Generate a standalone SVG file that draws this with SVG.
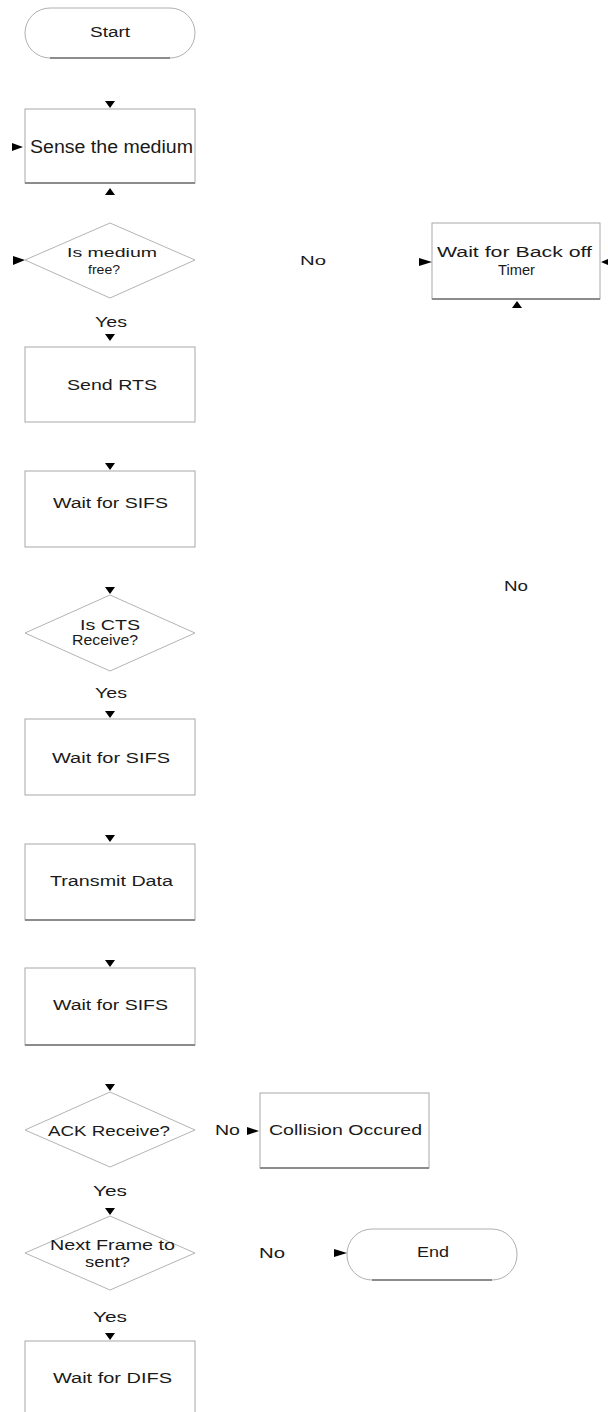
<svg xmlns="http://www.w3.org/2000/svg" width="608" height="1412" viewBox="0 0 608 1412">
<style>
text{font-family:"Liberation Sans",Arial,sans-serif;font-size:14px;fill:#1a1a1a}
.box{fill:#fff;stroke:#a8a8a8;stroke-width:1}
.sh{stroke:#8c8c8c;stroke-width:2}
.dia{fill:#fff;stroke:#b4b4b4;stroke-width:1}
.term{fill:#fff;stroke:#b0b0b0;stroke-width:1}
.ah{fill:#000}
</style>
<rect width="608" height="1412" fill="#fff"/>
<g id="start"><rect class="term" x="25" y="8" width="170" height="50" rx="25"/><line class="sh" x1="50" y1="58" x2="170" y2="58" stroke="#c4c4c4"/><text x="90" y="37" textLength="40" lengthAdjust="spacingAndGlyphs">Start</text></g>
<g id="sense"><rect class="box" x="25" y="109" width="170" height="74"/><line class="sh" x1="25" y1="183" x2="195" y2="183" stroke="#c0c0c0"/><text x="30" y="153" style="font-size:18px" textLength="163" lengthAdjust="spacingAndGlyphs">Sense the medium</text></g>
<g id="medfree"><polygon class="dia" points="110,223 195,260 110,298 25,260"/><text x="67" y="257" style="font-size:13px" textLength="90" lengthAdjust="spacingAndGlyphs">Is medium</text><text x="88" y="274" style="font-size:13px" textLength="32" lengthAdjust="spacingAndGlyphs">free?</text></g>
<g id="backoff"><rect class="box" x="432" y="223" width="168" height="76"/><line class="sh" x1="432" y1="299" x2="600" y2="299" stroke="#b8b8b8"/><text x="437" y="257" textLength="155" lengthAdjust="spacingAndGlyphs">Wait for Back off</text><text x="498" y="275" textLength="37" lengthAdjust="spacingAndGlyphs">Timer</text></g>
<g id="rts"><rect class="box" x="25" y="347" width="170" height="75"/><text x="67" y="390" style="font-size:15px" textLength="90" lengthAdjust="spacingAndGlyphs">Send RTS</text></g>
<g id="sifs1"><rect class="box" x="25" y="471" width="170" height="76"/><text x="53" y="508" textLength="115" lengthAdjust="spacingAndGlyphs">Wait for SIFS</text></g>
<g id="cts"><polygon class="dia" points="110,595 195,633 110,671 25,633"/><text x="80" y="630" textLength="60" lengthAdjust="spacingAndGlyphs">Is CTS</text><text x="72" y="645" textLength="66" lengthAdjust="spacingAndGlyphs">Receive?</text></g>
<g id="sifs2"><rect class="box" x="25" y="719" width="170" height="76"/><text x="52" y="763" textLength="118" lengthAdjust="spacingAndGlyphs">Wait for SIFS</text></g>
<g id="transmit"><rect class="box" x="25" y="844" width="170" height="76"/><line class="sh" x1="25" y1="920" x2="195" y2="920" stroke="#b8b8b8"/><text x="50" y="886" textLength="123" lengthAdjust="spacingAndGlyphs">Transmit Data</text></g>
<g id="sifs3"><rect class="box" x="25" y="968" width="170" height="77"/><line class="sh" x1="25" y1="1045" x2="195" y2="1045" stroke="#a0a0a0"/><text x="53" y="1010" textLength="115" lengthAdjust="spacingAndGlyphs">Wait for SIFS</text></g>
<g id="ack"><polygon class="dia" points="110,1092 195,1130 110,1167 25,1130"/><text x="48" y="1136" textLength="122" lengthAdjust="spacingAndGlyphs">ACK Receive?</text></g>
<g id="collision"><rect class="box" x="260" y="1093" width="169" height="75"/><line class="sh" x1="260" y1="1168" x2="429" y2="1168" stroke="#909090"/><text x="269" y="1135" textLength="153" lengthAdjust="spacingAndGlyphs">Collision Occured</text></g>
<g id="nextframe"><polygon class="dia" points="110,1216 195,1253 110,1290 25,1253"/><text x="50" y="1250" textLength="125" lengthAdjust="spacingAndGlyphs">Next Frame to</text><text x="85" y="1267" textLength="45" lengthAdjust="spacingAndGlyphs">sent?</text></g>
<g id="end"><rect class="term" x="347" y="1229" width="170" height="51" rx="25"/><line class="sh" x1="372" y1="1280" x2="492" y2="1280" stroke="#c4c4c4"/><text x="417" y="1257" textLength="32" lengthAdjust="spacingAndGlyphs">End</text></g>
<g id="difs"><rect class="box" x="25" y="1341" width="170" height="80"/><text x="53" y="1383" textLength="119" lengthAdjust="spacingAndGlyphs">Wait for DIFS</text></g>
<g id="labels">
<text x="95" y="327" textLength="32" lengthAdjust="spacingAndGlyphs">Yes</text>
<text x="300" y="265" style="font-size:13px" textLength="26" lengthAdjust="spacingAndGlyphs">No</text>
<text x="95" y="698" textLength="32" lengthAdjust="spacingAndGlyphs">Yes</text>
<text x="504" y="591" textLength="24" lengthAdjust="spacingAndGlyphs">No</text>
<text x="215" y="1135" textLength="25" lengthAdjust="spacingAndGlyphs">No</text>
<text x="93" y="1196" textLength="34" lengthAdjust="spacingAndGlyphs">Yes</text>
<text x="259" y="1258" textLength="26" lengthAdjust="spacingAndGlyphs">No</text>
<text x="93" y="1322" textLength="34" lengthAdjust="spacingAndGlyphs">Yes</text>
</g>
<g id="connectors">
<polygon class="ah" points="105,101 115,101 110,108"/>
<polygon class="ah" points="12,143 12,151 23,147"/>
<polygon class="ah" points="105,195 115,195 110,188"/>
<polygon class="ah" points="13,256 13,265 25,260"/>
<polygon class="ah" points="105,334 115,334 110,341"/>
<polygon class="ah" points="419,258 419,266 432,262"/>
<polygon class="ah" points="608,259 608,265 601,262"/>
<polygon class="ah" points="512,308 522,308 517,301"/>
<polygon class="ah" points="105,463 115,463 110,470"/>
<polygon class="ah" points="105,587 115,587 110,594"/>
<polygon class="ah" points="105,711 115,711 110,718"/>
<polygon class="ah" points="105,835 115,835 110,842"/>
<polygon class="ah" points="105,960 115,960 110,967"/>
<polygon class="ah" points="105,1084 115,1084 110,1091"/>
<polygon class="ah" points="247,1127 247,1135 259,1131"/>
<polygon class="ah" points="105,1208 115,1208 110,1215"/>
<polygon class="ah" points="334,1249 334,1257 347,1253"/>
<polygon class="ah" points="105,1333 115,1333 110,1340"/>
</g>
</svg>
